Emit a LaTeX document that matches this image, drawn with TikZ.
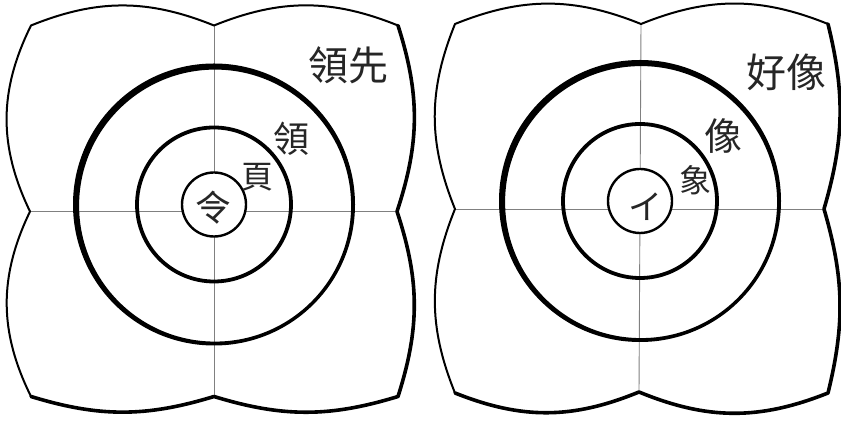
\documentclass[tikz,border=0pt]{standalone}
\usepackage{fontspec}
\newfontfamily\cjk{Noto Sans CJK TC}
\usetikzlibrary{calc}
\begin{document}
\begin{tikzpicture}[
    x=1pt, y=1pt,
    rim/.style={line width=2pt, line cap=round, line join=round},
    rimheavy/.style={line width=3.6pt, line cap=round, line join=round},
    axis/.style={line width=0.9pt, draw=black!50},
    ring/.style={line width=3.8pt},
    hub/.style={line width=2.4pt, fill=white},
    lab/.style={inner sep=0pt, text=black!85, font=\cjk\fontsize{#1}{#1}\selectfont},
    lab/.default=36
]
\useasboundingbox (0,0) rectangle (841,425);

% left panel
\begin{scope}[shift={(214,213.5)}]
\coordinate (nwL) at (-183,186);
\coordinate (nL)  at (0,186);
\coordinate (neL) at (184,186);
\coordinate (eL)  at (183,0);
\coordinate (seL) at (184,-185);
\coordinate (sL)  at (0,-185);
\coordinate (swL) at (-183,-185);
\coordinate (wL)  at (-184,0);
\coordinate (cL)  at (0,7);

\draw[axis] (nL) -- (sL);
\draw[axis] (wL) -- (eL);

\draw[rim] (swL) to[bend left=26] (wL) to[bend left=26] (nwL)
    to[bend left=22] (nL) to[bend left=22] (neL);
\draw[rimheavy] (neL) to[bend left=18] (eL) to[bend left=18] (seL)
    to[bend left=17] (sL) to[bend left=17] (swL);

\fill[even odd rule] (cL) circle (141) ($(cL)+(1.1,-1.1)$) circle (136);
\draw[ring] (cL) circle (77);
\draw[hub] (cL) circle (32);

\node[lab=40] (wordL) at (134.5,146.5) {領先};
\node[lab=36] (charL) at (77,73) {領};
\node[lab=32] (partL) at (43.5,34) {頁};
\node[lab=36] (coreL) at (-0.5,4) {令};
\end{scope}

% right panel
\begin{scope}[shift={(641,216)}]
\coordinate (nwR) at (-186,185);
\coordinate (nR)  at (0,185);
\coordinate (neR) at (187,185);
\coordinate (eR)  at (183,0);
\coordinate (seR) at (187,-184);
\coordinate (sR)  at (-2,-183);
\coordinate (swR) at (-186,-184);
\coordinate (wR)  at (-186,0);
\coordinate (cR)  at (-1,8);

\draw[axis] (nR) -- (sR);
\draw[axis] (wR) -- (eR);

\draw[rim] (swR) to[bend left=22] (wR) to[bend left=22] (nwR)
    to[bend left=22] (nR) to[bend left=22] (neR);
\draw[rimheavy] (neR) to[bend left=15] (eR) to[bend left=15] (seR)
    to[bend left=22] (sR) to[bend left=22] (swR);

\fill[even odd rule] (cR) circle (141) ($(cR)+(1.1,-1.1)$) circle (136);
\draw[ring] (cR) circle (77);
\draw[hub] (cR) circle (32);

\node[lab=40] (wordR) at (145,137) {好像};
\node[lab=38] (charR) at (82.5,73) {像};
\node[lab=32] (partR) at (54,29) {象};
\node[lab=34] (coreR) at (4,2) {イ};
\end{scope}
\end{tikzpicture}
\end{document}
